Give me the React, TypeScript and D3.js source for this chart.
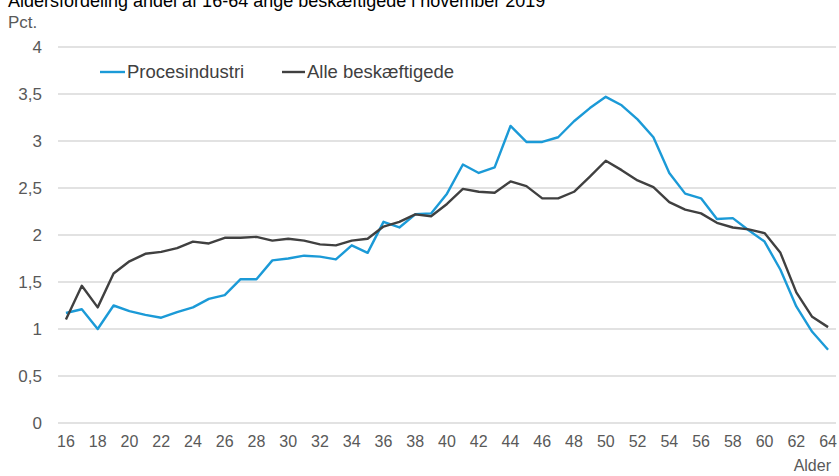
import React from "react";
import * as d3 from "d3";

const ages: number[] = d3.range(16, 65);
const procesindustri: number[] = [
  1.17, 1.21, 1.0, 1.25, 1.19, 1.15, 1.12, 1.18, 1.23, 1.32,
  1.36, 1.53, 1.53, 1.73, 1.75, 1.78, 1.77, 1.74, 1.89, 1.81,
  2.14, 2.08, 2.22, 2.23, 2.44, 2.75, 2.66, 2.72, 3.16, 2.99,
  2.99, 3.04, 3.21, 3.35, 3.47, 3.38, 3.23, 3.04, 2.66, 2.44,
  2.39, 2.17, 2.18, 2.05, 1.93, 1.63, 1.24, 0.97, 0.78,
];
const alleBeskaeftigede: number[] = [
  1.10, 1.46, 1.23, 1.59, 1.72, 1.80, 1.82, 1.86, 1.93, 1.91,
  1.97, 1.97, 1.98, 1.94, 1.96, 1.94, 1.90, 1.89, 1.94, 1.96,
  2.09, 2.14, 2.22, 2.20, 2.33, 2.49, 2.46, 2.45, 2.57, 2.52,
  2.39, 2.39, 2.46, 2.62, 2.79, 2.69, 2.58, 2.51, 2.35, 2.27,
  2.23, 2.13, 2.08, 2.06, 2.02, 1.81, 1.39, 1.13, 1.02,
];
const yTicks: number[] = [0, 0.5, 1, 1.5, 2, 2.5, 3, 3.5, 4];
const xTickAges: number[] = d3.range(16, 65, 2);
const seriesNames: string[] = ["Procesindustri", "Alle beskæftigede"];
const title = "Aldersfordeling andel af 16-64 årige beskæftigede i november 2019";

const W = 839;
const H = 476;
const left = 58;
const right = 836;
const top = 47;
const bottom = 423;
const font = "'Liberation Sans', Arial, sans-serif";
const colors = ["#1b9ad7", "#404040"];

export default function App() {
  const x = d3.scaleBand<number>().domain(ages).range([left, right]);
  const xc = (a: number) => (x(a) as number) + x.bandwidth() / 2;
  const y = d3.scaleLinear().domain([0, 4]).range([bottom, top]);
  const fmt = (v: number) => String(v).replace(".", ",");
  const line = d3
    .line<number>()
    .x((_, i) => xc(ages[i]))
    .y((d) => y(d));
  const series = [procesindustri, alleBeskaeftigede];
  const legend = [
    { x1: 100, x2: 125, tx: 127 },
    { x1: 282, x2: 305, tx: 307 },
  ];
  return (
    <svg
      width={W}
      height={H}
      style={{ position: "absolute", left: 0, top: 0, background: "#fff" }}
      fontFamily={font}
    >
      <text x={8} y={6.5} fontSize={18} fill="#000">
        {title}
      </text>
      <text x={8} y={28} fontSize={17} fill="#595959">
        Pct.
      </text>
      {yTicks.map((t) => (
        <g key={t}>
          <line x1={left} x2={right} y1={y(t)} y2={y(t)} stroke="#d9d9d9" strokeWidth={1.3} />
          <text x={42} y={y(t)} dy="0.35em" textAnchor="end" fontSize={17} fill="#595959">
            {fmt(t)}
          </text>
        </g>
      ))}
      {xTickAges.map((a) => (
        <text key={a} x={xc(a)} y={447} textAnchor="middle" fontSize={16} fill="#595959">
          {a}
        </text>
      ))}
      <text x={831} y={471} textAnchor="end" fontSize={16} fill="#595959">
        Alder
      </text>
      {series.map((s, i) => (
        <path
          key={i}
          d={line(s) || ""}
          fill="none"
          stroke={colors[i]}
          strokeWidth={2.4}
          strokeLinejoin="round"
        />
      ))}
      {legend.map((l, i) => (
        <g key={i}>
          <line x1={l.x1} x2={l.x2} y1={72} y2={72} stroke={colors[i]} strokeWidth={2.4} />
          <text x={l.tx} y={72} dy="0.35em" fontSize={18.5} fill="#404040">
            {seriesNames[i]}
          </text>
        </g>
      ))}
    </svg>
  );
}
